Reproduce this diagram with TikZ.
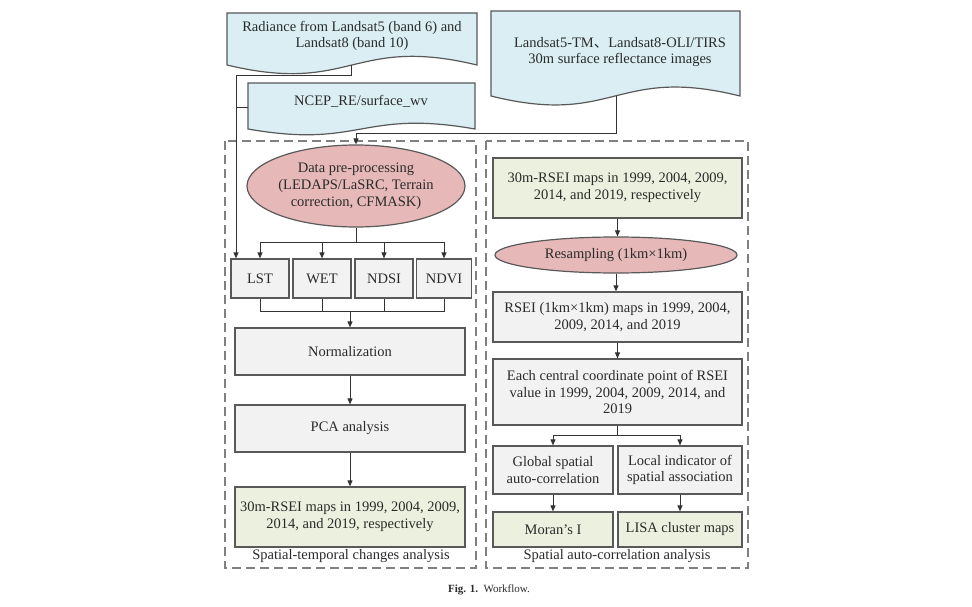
\documentclass[tikz,border=0pt]{standalone}
\usepackage{fontspec}
\setmainfont{Liberation Serif}
\newfontfamily\cjkf{Noto Sans CJK SC}
\usetikzlibrary{arrows.meta,shapes.geometric}
\definecolor{bluef}{HTML}{DAEEF3}
\definecolor{pinkf}{HTML}{E6B9B8}
\definecolor{greenf}{HTML}{EBF1DE}
\definecolor{grayf}{HTML}{F2F2F2}
\definecolor{bordc}{HTML}{595959}
\definecolor{linec}{HTML}{333333}
\definecolor{dashc}{HTML}{808080}
\definecolor{txtc}{HTML}{2B2B2B}
\newcommand\fsz{\fontsize{14.5}{16.8}\selectfont}
\tikzset{
  conn/.style={draw=linec, line width=1pt},
  arrline/.style={conn, -{Triangle[length=6pt,width=5pt]}},
  procbox/.style={rectangle, draw=bordc, line width=1.2pt, fill=grayf, inner sep=0pt, align=center, font=\fsz, text=txtc},
  greenbox/.style={procbox, fill=greenf},
  pinkell/.style={ellipse, draw=bordc, line width=1.2pt, fill=pinkf, inner sep=0pt, align=center, font=\fsz, text=txtc},
  docshape/.style={draw=bordc, line width=1.2pt, fill=bluef},
  doctext/.style={align=center, font=\fsz, text=txtc, inner sep=0pt},
  dashframe/.style={draw=dashc, line width=1.2pt, dash pattern=on 9pt off 5pt}
}
\begin{document}
\begin{tikzpicture}[x=1pt,y=-1pt]
\useasboundingbox (0,0) rectangle (972,607);
\fill[white] (0,0) rectangle (972,607);

% dashed frames
\draw[dashframe] (225,141) rectangle (476,568);
\draw[dashframe] (486,141) rectangle (748,568);

% document shapes
\draw[docshape] (227,13) -- (227,65) .. controls (352,95) and (352,35) .. (477,65) -- (477,13) -- cycle;
\draw[docshape] (248,83) -- (248,129) .. controls (361,149) and (361,109) .. (475,129) -- (475,83) -- cycle;
\draw[docshape] (491,11) -- (491,96) .. controls (615,127) and (615,65) .. (740,96) -- (740,11) -- cycle;

\node[doctext] (rad) at (352,36) {Radiance from Landsat5 (band 6) and\\Landsat8 (band 10)};
\node[doctext] (ncep) at (361,101) {NCEP\_RE/surface\_wv};
\node[doctext] (refl) at (620,52) {Landsat5-TM{\cjkf 、}Landsat8-OLI/TIRS\\30m surface reflectance images};

% left column
\node[pinkell, minimum width=218pt, minimum height=82pt,
      label={[align=center,font=\fsz,text=txtc]center:Data pre-processing\\(LEDAPS/LaSRC, Terrain\\correction, CFMASK)}] (pre) at (356,186) {};
\node[procbox, minimum width=58pt, minimum height=39pt] (lst) at (260,278.5) {LST};
\node[procbox, minimum width=58pt, minimum height=39pt] (wet) at (322,278.5) {WET};
\node[procbox, minimum width=58pt, minimum height=39pt] (ndsi) at (384,278.5) {NDSI};
\node[procbox, minimum width=55pt, minimum height=39pt] (ndvi) at (444,278.5) {NDVI};
\node[procbox, minimum width=230pt, minimum height=47pt] (norm) at (350,351.5) {Normalization};
\node[procbox, minimum width=230pt, minimum height=47pt] (pca) at (350,428.5) {PCA analysis};
\node[greenbox, minimum width=230pt, minimum height=60pt] (rsl) at (350,517) {30m-RSEI maps in 1999, 2004, 2009,\\2014, and 2019, respectively};
\node[doctext] (lbl1) at (351,556) {Spatial-temporal changes analysis};

% right column
\node[greenbox, minimum width=249pt, minimum height=60pt] (rsr) at (617.5,188) {30m-RSEI maps in 1999, 2004, 2009,\\2014, and 2019, respectively};
\node[pinkell, minimum width=242pt, minimum height=36pt] (resamp) at (616,255) {Resampling (1km×1km)};
\node[procbox, minimum width=249pt, minimum height=50pt] (rs1) at (617.5,317) {RSEI (1km×1km) maps in 1999, 2004,\\2009, 2014, and 2019};
\node[procbox, minimum width=249pt, minimum height=66pt] (each) at (617.5,392) {Each central coordinate point of RSEI\\value in 1999, 2004, 2009, 2014, and\\2019};
\node[procbox, minimum width=120pt, minimum height=48pt] (glob) at (553,470) {Global spatial\\auto-correlation};
\node[procbox, minimum width=124pt, minimum height=48pt] (loc) at (680,470) {Local indicator of\\spatial association};
\node[greenbox, minimum width=120pt, minimum height=35pt] (moran) at (553,529.5) {Moran's I};
\node[greenbox, minimum width=124pt, minimum height=35pt] (lisa) at (680,529.5) {LISA cluster maps};
\node[doctext] (lbl2) at (617,556) {Spatial auto-correlation analysis};

% caption
\node[font=\fontsize{11}{13}\selectfont, text=txtc] (cap) at (489,590) {\textbf{Fig. 1.}\ \ Workflow.};

% connectors top
\coordinate (radb) at (351,65);
\coordinate (radl) at (236,76);
\coordinate (ncepw) at (248,108);
\coordinate (reflb) at (616,96);
\coordinate (refly) at (616,134);
\draw[arrline] (radb) -- (radb |- radl) -- (radl) -- (radl |- lst.north);
\draw[conn] (ncepw -| radl) -- (ncepw);
\draw[arrline] (reflb) -- (refly) -| (pre.north);

% branch to indices
\coordinate (bry) at (0,242);
\draw[conn] (pre.south) -- (pre.south |- bry);
\draw[conn] (lst.north |- bry) -- (ndvi.north |- bry);
\draw[arrline] (lst.north |- bry) -- (lst.north);
\draw[arrline] (wet.north |- bry) -- (wet.north);
\draw[arrline] (ndsi.north |- bry) -- (ndsi.north);
\draw[arrline] (ndvi.north |- bry) -- (ndvi.north);

% join from indices
\coordinate (bjy) at (0,311);
\draw[conn] (lst.south) -- (lst.south |- bjy) -- (ndvi.south |- bjy) -- (ndvi.south);
\draw[conn] (wet.south) -- (wet.south |- bjy);
\draw[conn] (ndsi.south) -- (ndsi.south |- bjy);
\draw[arrline] (norm.north |- bjy) -- (norm.north);
\draw[arrline] (norm.south) -- (pca.north);
\draw[arrline] (pca.south) -- (rsl.north);

% right chain
\draw[arrline] (rsr.south) -- (rsr.south |- resamp.north);
\draw[arrline] (resamp.south) -- (resamp.south |- rs1.north);
\draw[arrline] (rs1.south) -- (each.north);
\coordinate (rby) at (0,435);
\draw[conn] (each.south) -- (each.south |- rby);
\draw[conn] (glob.north |- rby) -- (loc.north |- rby);
\draw[arrline] (glob.north |- rby) -- (glob.north);
\draw[arrline] (loc.north |- rby) -- (loc.north);
\draw[arrline] (glob.south) -- (moran.north);
\draw[arrline] (loc.south) -- (lisa.north);
\end{tikzpicture}
\end{document}
